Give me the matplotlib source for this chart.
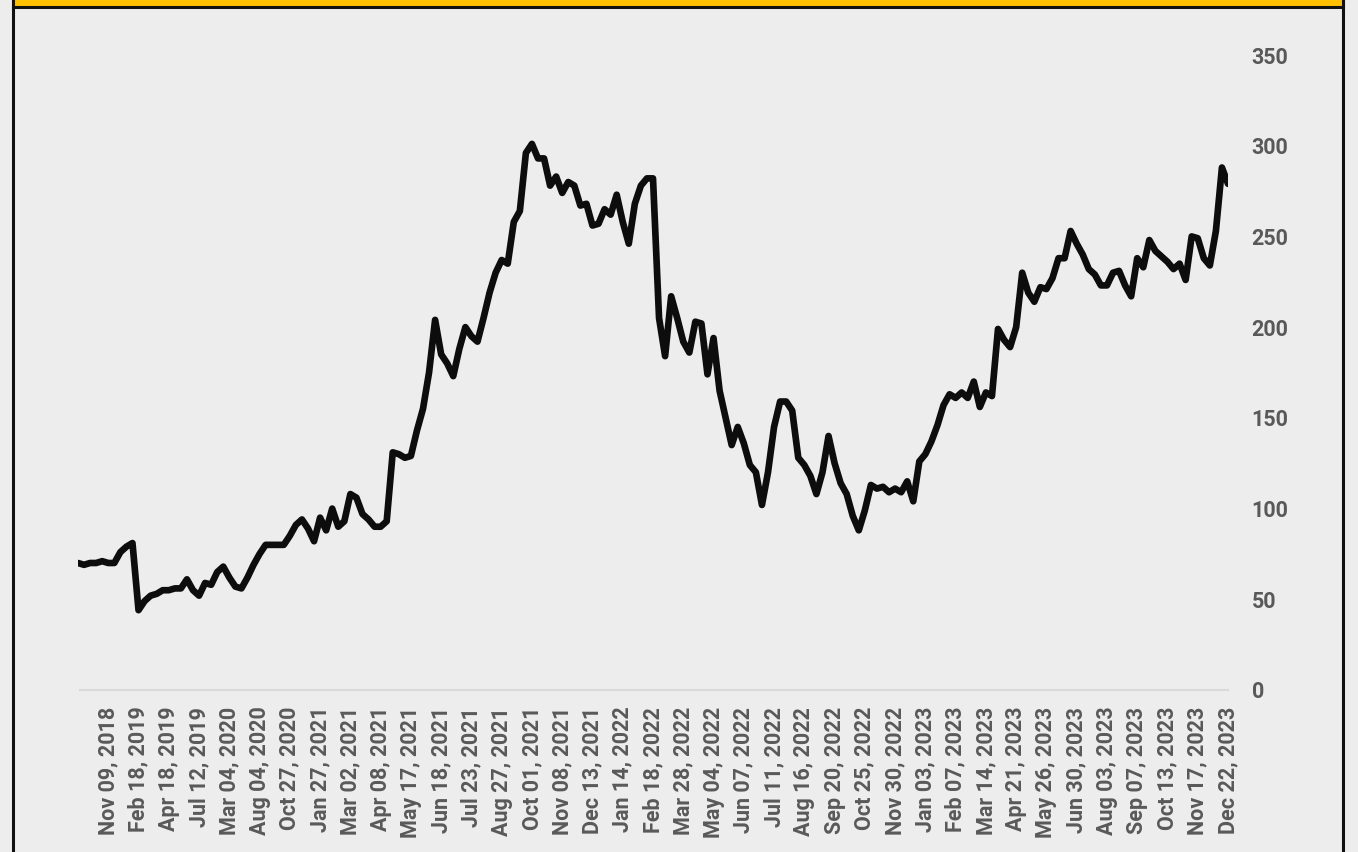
import numpy as np
import matplotlib.pyplot as plt
from matplotlib.patches import Rectangle
from matplotlib.lines import Line2D

# weekly-ish closing prices (one value every 5 trading days)
prices = [
    70, 69, 70, 70, 71, 70, 70, 76, 79, 81,
    44, 49, 52, 53, 55, 55, 56, 56, 61, 55,
    52, 59, 58, 65, 68, 62, 57, 56, 62, 69,
    75, 80, 80, 80, 80, 85, 91, 94, 89, 82,
    95, 88, 100, 90, 93, 108, 106, 97, 94, 90,
    90, 93, 131, 130, 128, 129, 143, 155, 175, 204,
    185, 180, 173, 188, 200, 195, 192, 205, 219, 230,
    237, 235, 258, 264, 296, 301, 293, 293, 278, 283,
    274, 280, 278, 267, 268, 256, 257, 265, 262, 273,
    258, 246, 268, 278, 282, 282, 205, 184, 217, 205,
    192, 186, 203, 202, 174, 194, 165, 150, 135, 145,
    136, 124, 120, 102, 120, 145, 159, 159, 154, 128,
    124, 118, 108, 120, 140, 125, 114, 108, 96, 88,
    99, 113, 111, 112, 109, 111, 109, 115, 104, 126,
    130, 137, 146, 157, 163, 161, 164, 161, 170, 156,
    164, 162, 199, 193, 189, 200, 230, 219, 214, 222,
    221, 227, 238, 238, 253, 246, 240, 232, 229, 223,
    223, 230, 231, 223, 217, 238, 233, 248, 242, 239,
    236, 232, 235, 226, 250, 249, 238, 234, 253, 288,
    279,
]

date_labels = [
    "Nov 09, 2018", "Feb 18, 2019", "Apr 18, 2019", "Jul 12, 2019",
    "Mar 04, 2020", "Aug 04, 2020", "Oct 27, 2020", "Jan 27, 2021",
    "Mar 02, 2021", "Apr 08, 2021", "May 17, 2021", "Jun 18, 2021",
    "Jul 23, 2021", "Aug 27, 2021", "Oct 01, 2021", "Nov 08, 2021",
    "Dec 13, 2021", "Jan 14, 2022", "Feb 18, 2022", "Mar 28, 2022",
    "May 04, 2022", "Jun 07, 2022", "Jul 11, 2022", "Aug 16, 2022",
    "Sep 20, 2022", "Oct 25, 2022", "Nov 30, 2022", "Jan 03, 2023",
    "Feb 07, 2023", "Mar 14, 2023", "Apr 21, 2023", "May 26, 2023",
    "Jun 30, 2023", "Aug 03, 2023", "Sep 07, 2023", "Oct 13, 2023",
    "Nov 17, 2023", "Dec 22, 2023",
]

y_ticks = [0, 50, 100, 150, 200, 250, 300, 350]

bg = "#EDEDED"
grey = "#595959"
W, H = 1358, 852

plt.rcParams['font.family'] = ['Roboto', 'DejaVu Sans']

fig = plt.figure(figsize=(W / 100, H / 100), dpi=100, facecolor=bg)

# frame: yellow band on top, black border running off the bottom
fig.add_artist(Rectangle((12 / W, 1 - 7 / H), 1331 / W, 8 / H,
                         transform=fig.transFigure, facecolor="#FFC000",
                         edgecolor="none"))
for xs, ys in [([12.5, 12.5], [-2, 870]), ([1342.5, 1342.5], [-2, 870]),
               ([12.5, 1342.5], [7, 7])]:
    fig.add_artist(Line2D([x / W for x in xs], [1 - y / H for y in ys],
                          transform=fig.transFigure, color="#111111", lw=2.2))

ax = fig.add_axes([78 / W, 1 - 690 / H, (1228 - 78) / W, (690 - 55) / H])
ax.set_facecolor(bg)

x = np.arange(len(prices))
ax.plot(x, prices, color="#0D0D0D", lw=4.8, solid_joinstyle="round",
        solid_capstyle="round")

ax.set_xlim(0, len(prices) - 1)
ax.set_ylim(0, 350)

ax.set_xticks(np.arange(5, len(prices), 5))
ax.set_xticklabels(date_labels, rotation=90, fontsize=15.5, fontweight="bold",
                   color=grey)
ax.set_yticks(y_ticks)
ax.set_yticklabels([str(v) for v in y_ticks], fontsize=15.5,
                   fontweight="bold", color=grey)
ax.yaxis.tick_right()
ax.tick_params(axis="x", length=0, pad=12)
ax.tick_params(axis="y", length=0, pad=17)

for s in ["top", "left", "right"]:
    ax.spines[s].set_visible(False)
ax.spines["bottom"].set_color("#D9D9D9")
ax.spines["bottom"].set_linewidth(1.5)
ax.spines["bottom"].set_bounds(0.3, len(prices) - 1)

fig.savefig("out.png", dpi=100, facecolor=bg)
